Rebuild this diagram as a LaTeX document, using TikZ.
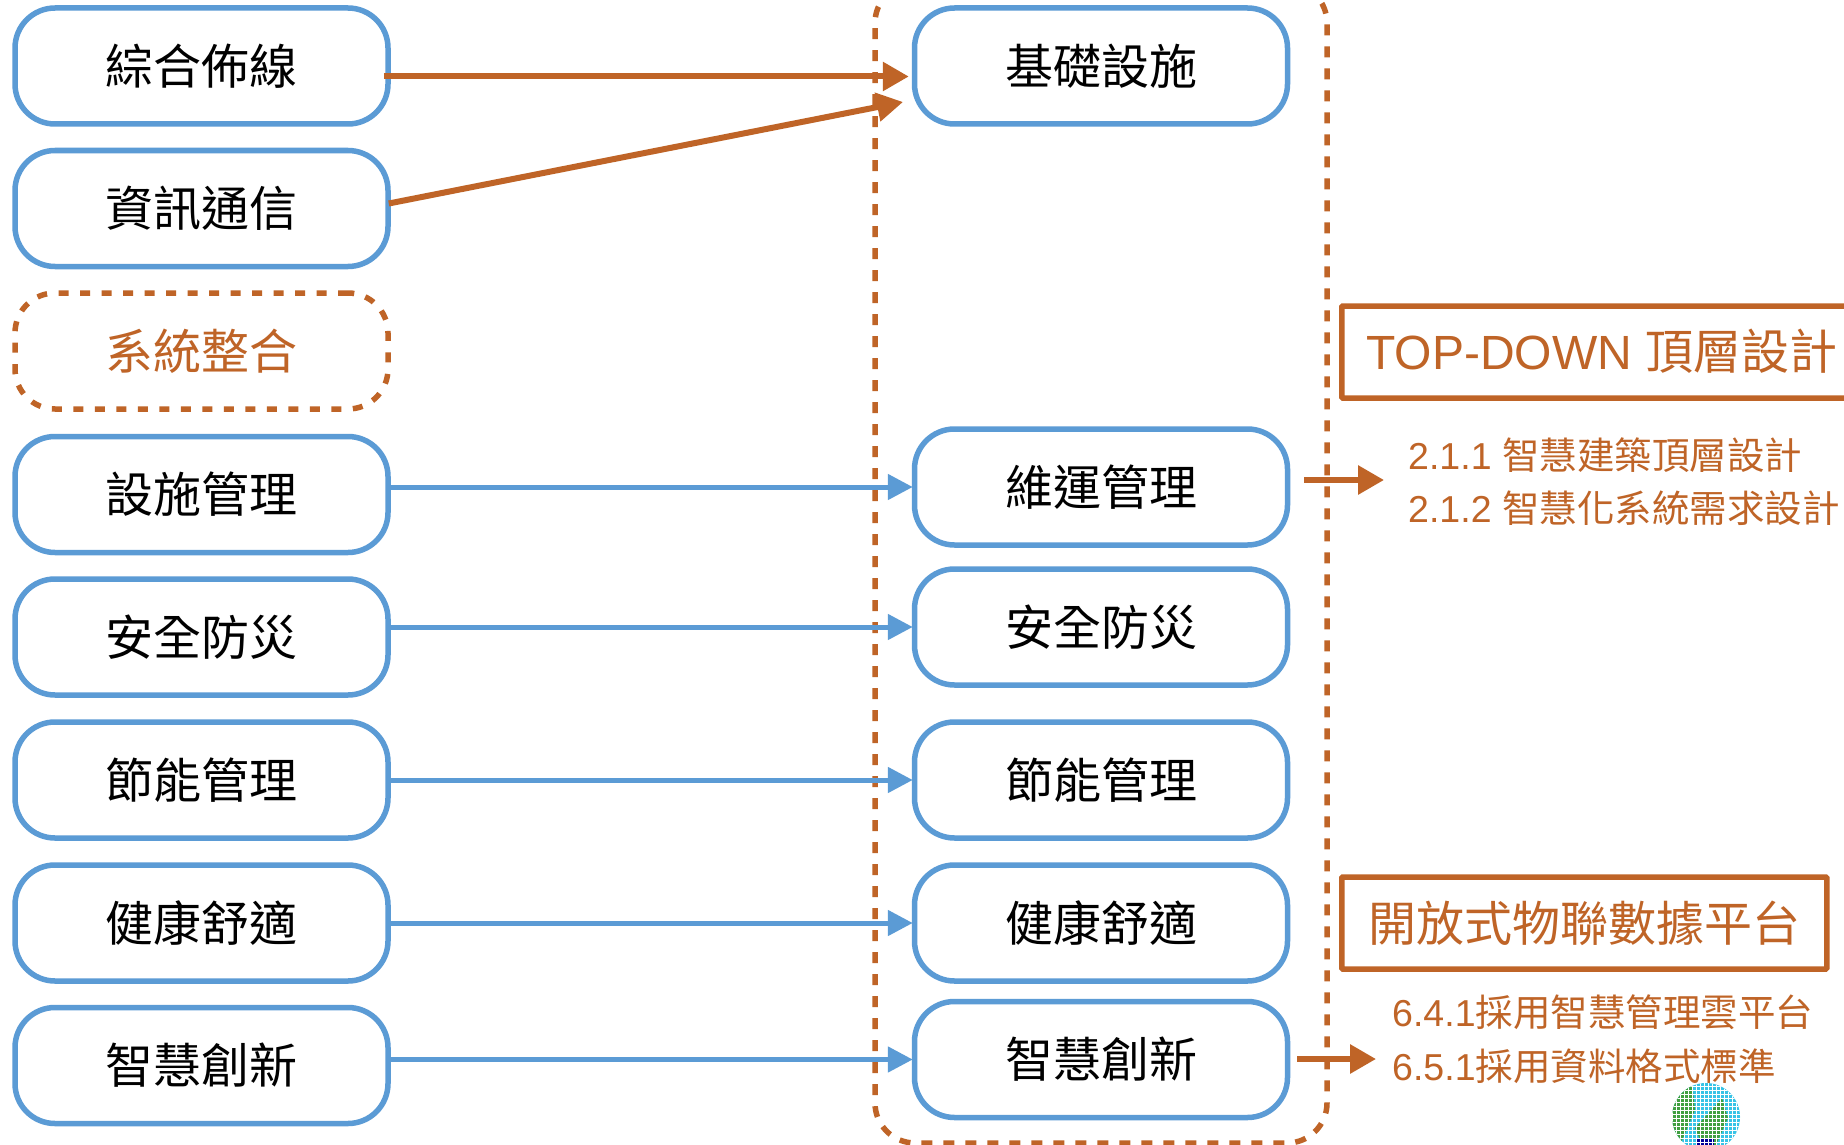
\documentclass[tikz,border=0pt]{standalone}
\usepackage{fontspec}
\setmainfont{Liberation Sans}
\newfontfamily\cjk{Noto Sans CJK TC}
\usetikzlibrary{calc,arrows.meta}
\definecolor{oran}{HTML}{BF6427}
\definecolor{blu}{HTML}{5B9BD5}
\tikzset{
  x=1pt,y=1pt,
  boxb/.style={draw=blu,line width=5.5pt,rounded corners=40pt,minimum width=373pt,minimum height=116pt,inner sep=0pt,font=\fontsize{48}{48}\selectfont\cjk,text=black,fill=white},
  boxd/.style={draw=oran,line width=5.5pt,dash pattern=on 10pt off 11.5pt,rounded corners=40pt,minimum width=373pt,minimum height=116pt,inner sep=0pt,font=\fontsize{48}{48}\selectfont\cjk,text=oran},
  frameo/.style={draw=oran,line width=5.5pt,rounded corners=1pt,inner sep=0pt,text=oran,font=\fontsize{48}{48}\selectfont\cjk},
  sub/.style={anchor=west,inner sep=0pt,text=oran,font=\fontsize{37.5}{37.5}\selectfont},
  arrb/.style={draw=blu,line width=5pt,-{Triangle[length=25pt,width=25pt]}},
  arro/.style={draw=oran,line width=6pt,-{Triangle[length=26pt,width=28pt]}},
}
\begin{document}
\begin{tikzpicture}[yscale=-1]
\useasboundingbox (0,0) rectangle (1844,1145);
\clip (0,0) rectangle (1844,1145);
\fill[white] (0,0) rectangle (1844,1145);
% globe
\begin{scope}
  \clip (1706,1117) circle (34);
  \fill[blu!60!cyan] (1660,1070) rectangle (1750,1145);
  \fill[green!50!black!75] (1668,1082) -- (1692,1082) -- (1695,1110) -- (1680,1145) -- (1668,1145) -- cycle;
  \fill[green!50!black!75] (1722,1098) -- (1695,1128) -- (1702,1145) -- (1716,1145) -- (1728,1118) -- cycle;
  \fill[blue!60!black] (1696,1139) rectangle (1714,1145);
  \foreach \i in {0,1,...,20} {
    \draw[white,line width=0.8pt] (1668+4*\i,1080) -- (1668+4*\i,1145);
    \draw[white,line width=0.8pt] (1668,1082+4*\i) -- (1745,1082+4*\i);
  }
\end{scope}
% big dashed frame
\node[draw=oran,line width=5.5pt,dash pattern=on 11pt off 11pt,rounded corners=40pt,minimum width=452pt,minimum height=1160pt,inner sep=0pt] (frame) at (1101,563) {};
% left column
\node[boxb] (l1) at (201.5,66) {綜合佈線};
\node[boxb] (l2) at (201.5,208.5) {資訊通信};
\node[boxd] (l3) at (201.5,351) {系統整合};
\node[boxb] (l4) at (201.5,494.5) {設施管理};
\node[boxb] (l5) at (201.5,637) {安全防災};
\node[boxb] (l6) at (201.5,780) {節能管理};
\node[boxb] (l7) at (201.5,923) {健康舒適};
\node[boxb] (l8) at (201.5,1065.5) {智慧創新};
% right column
\node[boxb] (r1) at (1101,66) {基礎設施};
\node[boxb] (r4) at (1101,487) {維運管理};
\node[boxb] (r5) at (1101,627) {安全防災};
\node[boxb] (r6) at (1101,780) {節能管理};
\node[boxb] (r7) at (1101,923) {健康舒適};
\node[boxb] (r8) at (1101,1059.5) {智慧創新};
% blue arrows
\foreach \a/\b in {l4/r4,l5/r5,l6/r6,l7/r7,l8/r8}
  \draw[arrb] (\a.east |- \b.west) -- ($(\b.west)+(1,0)$);
% orange arrows
\draw[arro] ($(l1.east)+(-7,10.5)$) -- ($(r1.west)+(-3,10.5)$);
\coordinate (a2) at (903,102);
\draw[arro] ($(l2.east)+(-2,-5)$) -- (a2);
% right boxes
\node[frameo,minimum width=560pt,minimum height=92pt,anchor=west] (top) at (1339,352) {};
\node[inner sep=0pt,text=oran,anchor=west,font=\fontsize{48}{48}\selectfont] (toptxt) at (1366,351) {TOP-DOWN {\cjk 頂層設計}};
\node[frameo,minimum width=485pt,minimum height=92pt,anchor=west] (open) at (1339,923) {開放式物聯數據平台};
% sub texts
\node[sub] (s1) at (1408,455) {2.1.1 {\cjk 智慧建築頂層設計}};
\node[sub] (s2) at (1408,508) {2.1.2 {\cjk 智慧化系統需求設計}};
\node[sub] (s3) at (1392,1012) {6.4.1{\cjk 採用智慧管理雲平台}};
\node[sub] (s4) at (1392,1066) {6.5.1{\cjk 採用資料格式標準}};
% small arrows
\coordinate (t1) at (1304,480);
\coordinate (t2) at (1384,480);
\coordinate (t3) at (1297,1059);
\coordinate (t4) at (1376,1059);
\draw[arro] (t1) -- (t2);
\draw[arro] (t3) -- (t4);
\end{tikzpicture}
\end{document}
